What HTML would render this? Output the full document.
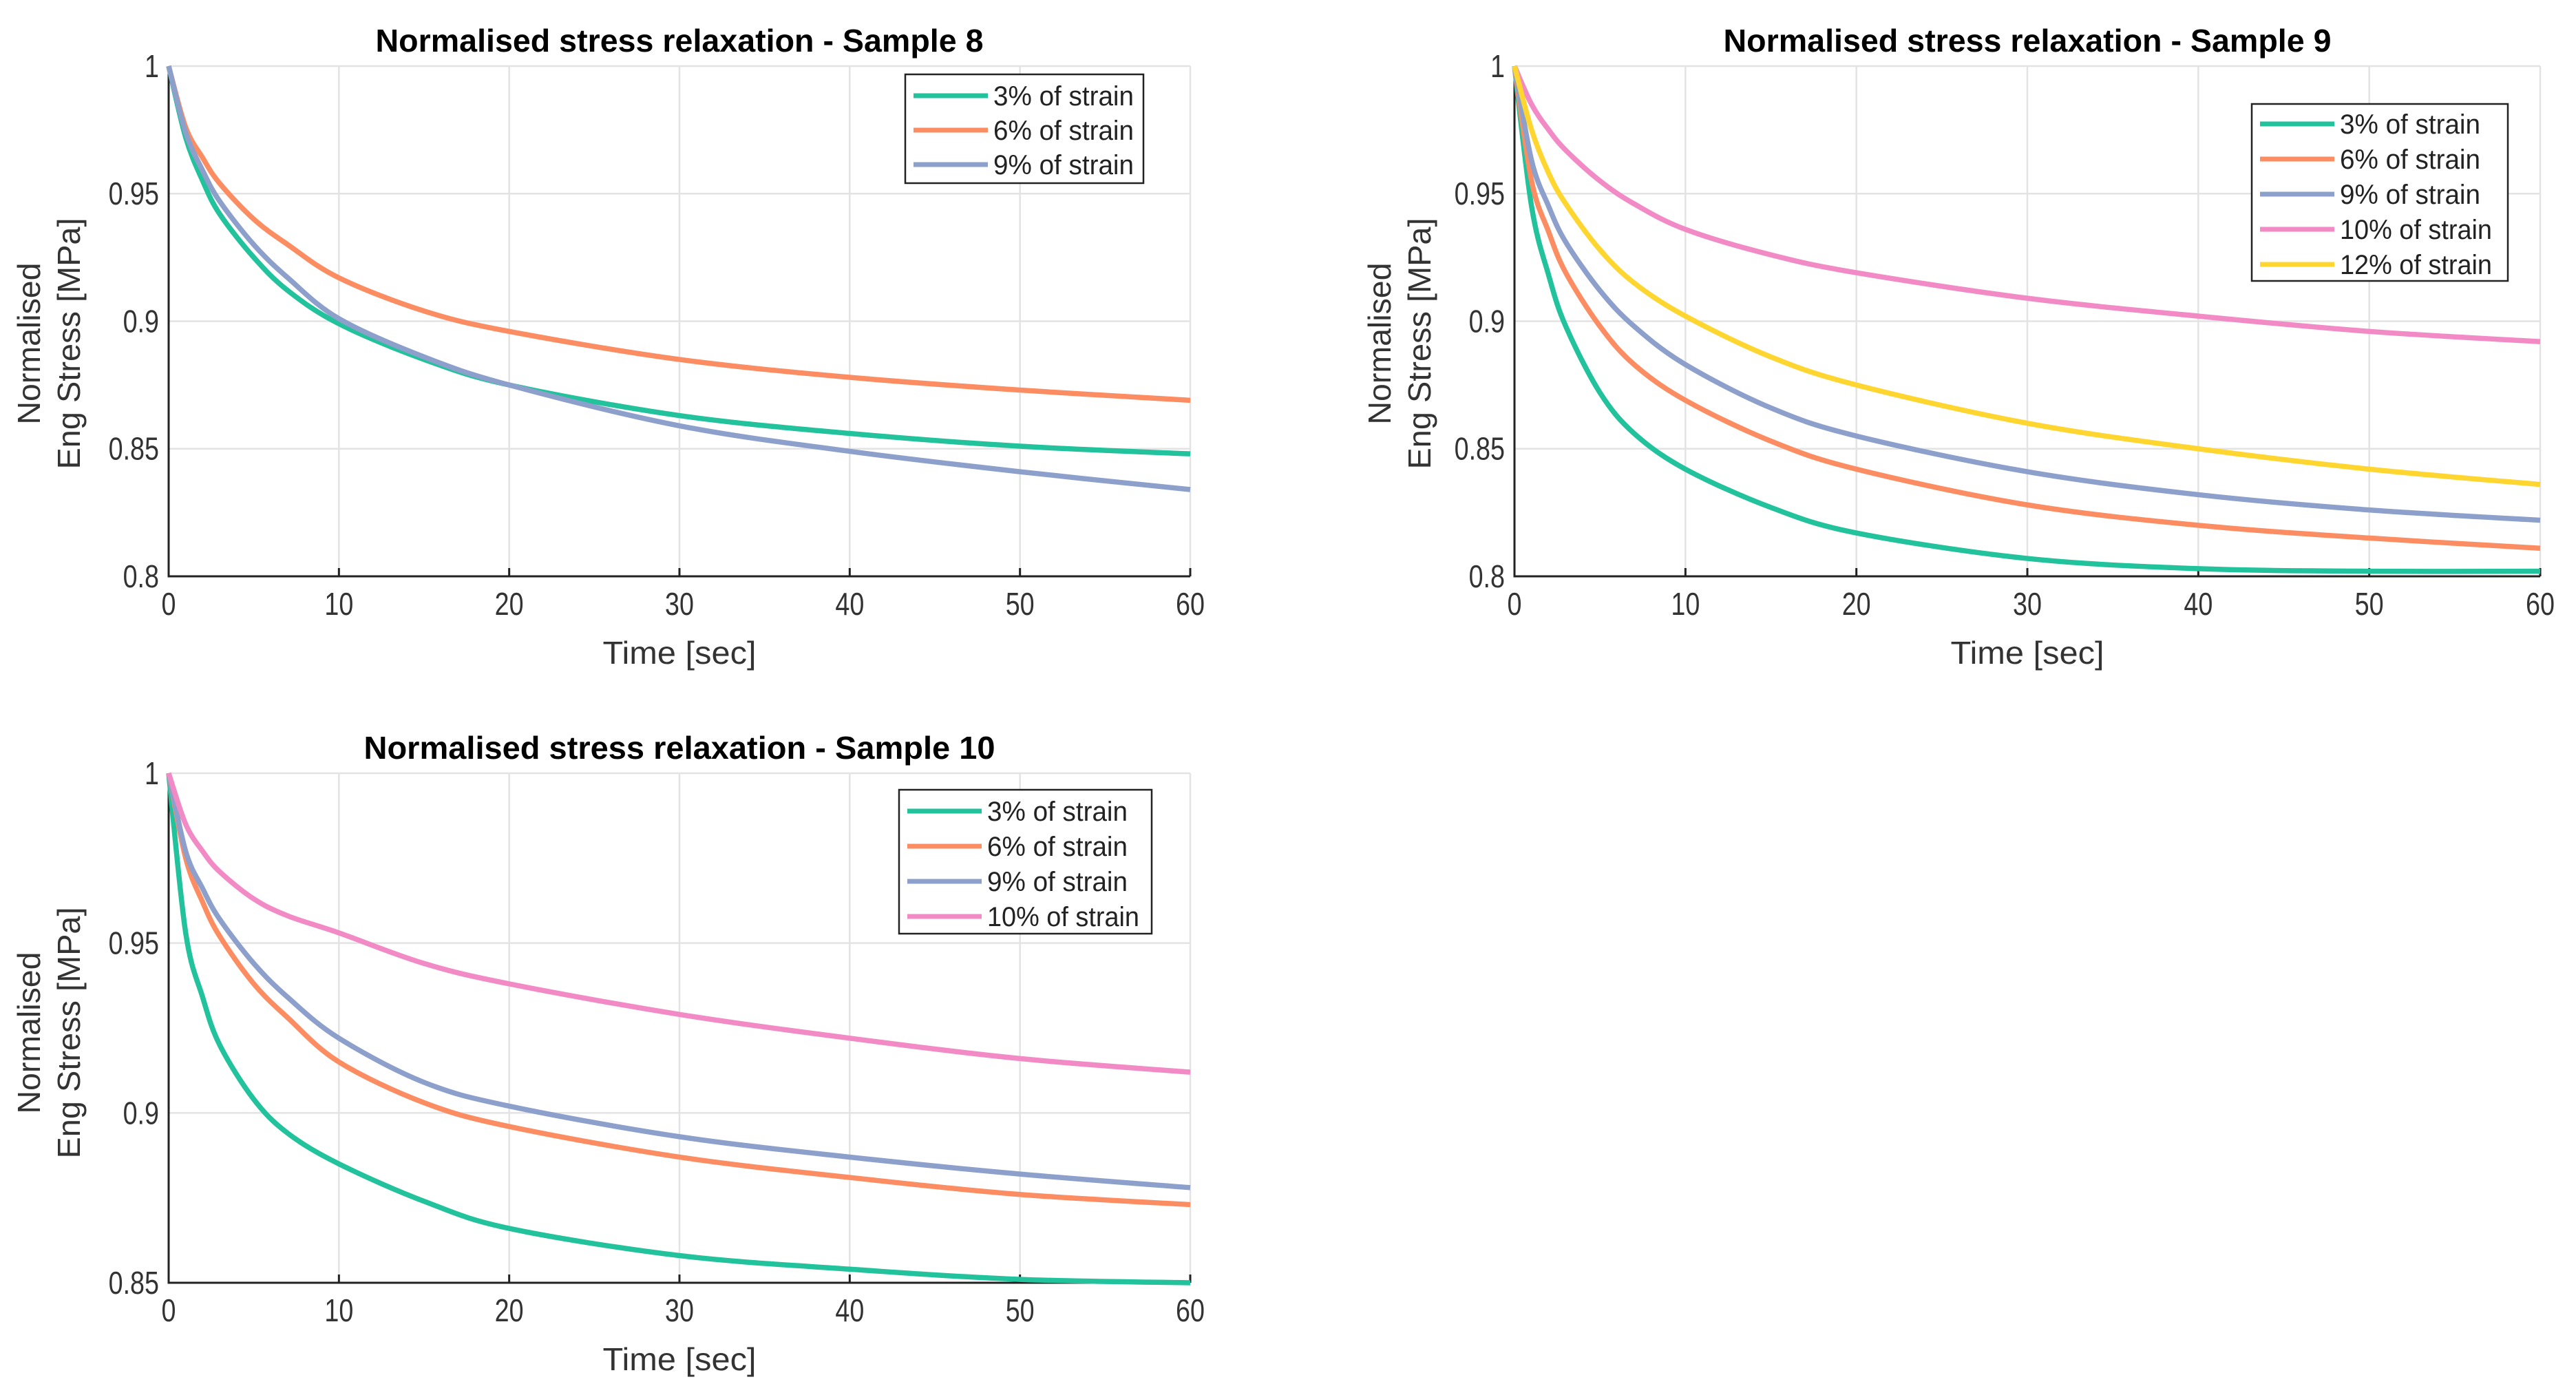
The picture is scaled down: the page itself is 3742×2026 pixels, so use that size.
<!DOCTYPE html>
<html><head><meta charset="utf-8"><style>
html,body{margin:0;padding:0;background:#fff;overflow:hidden;}
svg{display:block;font-family:"Liberation Sans",sans-serif;}
</style></head><body>
<svg id="fig" width="3742" height="2026" viewBox="0 0 3742 2026"></svg>
<script>
const times = [0,1,2,3,5,7,10,15,20,30,40,50,60];
const xTicks = [0,10,20,30,40,50,60];
const seriesLabels = ["3% of strain","6% of strain","9% of strain","10% of strain","12% of strain"];
const s8_3 = [1,0.972,0.955,0.942,0.925,0.912,0.899,0.885,0.875,0.863,0.856,0.851,0.848];
const s8_6 = [1,0.976,0.964,0.954,0.940,0.930,0.917,0.904,0.896,0.885,0.878,0.873,0.869];
const s8_9 = [1,0.974,0.959,0.947,0.930,0.917,0.901,0.886,0.875,0.859,0.849,0.841,0.834];
const s9_3 = [1,0.945,0.918,0.898,0.872,0.856,0.842,0.827,0.817,0.807,0.803,0.802,0.802];
const s9_6 = [1,0.955,0.935,0.919,0.898,0.883,0.869,0.853,0.842,0.828,0.820,0.815,0.811];
const s9_9 = [1,0.963,0.945,0.931,0.912,0.898,0.883,0.866,0.855,0.841,0.832,0.826,0.822];
const s9_10 = [1,0.985,0.975,0.967,0.955,0.946,0.936,0.926,0.919,0.909,0.902,0.896,0.892];
const s9_12 = [1,0.975,0.958,0.946,0.928,0.915,0.902,0.886,0.875,0.860,0.850,0.842,0.836];
const s10_3 = [1,0.953,0.934,0.920,0.904,0.894,0.885,0.874,0.866,0.858,0.854,0.851,0.850];
const s10_6 = [1,0.975,0.962,0.952,0.938,0.928,0.915,0.903,0.896,0.887,0.881,0.876,0.873];
const s10_9 = [1,0.977,0.966,0.957,0.944,0.934,0.922,0.909,0.902,0.893,0.887,0.882,0.878];
const s10_10 = [1,0.985,0.977,0.971,0.963,0.958,0.953,0.944,0.938,0.929,0.922,0.916,0.912];
const yTicksA = [0.8,0.85,0.9,0.95,1];
const yTicksC = [0.85,0.9,0.95,1];
const colors = ["#22c29c","#fc8d62","#8da0cb","#f28ac6","#ffd52f"];

const NS="http://www.w3.org/2000/svg";
const svg=document.getElementById('fig');
function mk(tag,attrs,parent){const e=document.createElementNS(NS,tag);for(const k in attrs)e.setAttribute(k,attrs[k]);(parent||svg).appendChild(e);return e;}

function chart(cfg){
  const g=mk('g',{});
  
  
  const {x0,x1,y0,y1,ymin,ymax}=cfg;
  const sx=t=>x0+(t-0)/60*(x1-x0);
  const sy=v=>y1-(v-ymin)/(ymax-ymin)*(y1-y0);
  xTicks.forEach(t=>{const l=mk('line',{x1:sx(t),x2:sx(t),y1:y0,y2:y1,stroke:'#e3e3e3','stroke-width':2.5},g);
    });
  cfg.yTicks.forEach(v=>{const l=mk('line',{x1:x0,x2:x1,y1:sy(v),y2:sy(v),stroke:'#e3e3e3','stroke-width':2.5},g);
    });
  const ax=mk('path',{d:`M${x0} ${y0} L${x0} ${y1} L${x1} ${y1}`,fill:'none',stroke:'#222','stroke-width':3},g);
  
  xTicks.forEach(t=>{
    mk('line',{x1:sx(t),x2:sx(t),y1:y1,y2:y1-12,stroke:'#222','stroke-width':3},g);
    const tx=mk('text',{x:sx(t),y:y1+56,'font-size':46,'text-anchor':'middle',fill:'#333',transform:`translate(${sx(t)},0) scale(0.82,1) translate(${-sx(t)},0)`},g);
    tx.textContent=t;
    
  });
  cfg.yTicks.forEach(v=>{
    const tx=mk('text',{x:x0-14,y:sy(v)+16,'font-size':46,'text-anchor':'end',fill:'#333',transform:`translate(${x0-14},0) scale(0.82,1) translate(${-(x0-14)},0)`},g);
    tx.textContent=String(v);
    
  });
  const tt=mk('text',{x:(x0+x1)/2,y:y0-21,'font-size':46,'font-weight':'bold','text-anchor':'middle',fill:'#000',textLength:cfg.titleLen,lengthAdjust:'spacingAndGlyphs'},g);
  tt.textContent=cfg.title;
  
  const xl=mk('text',{x:(x0+x1)/2,y:y1+127,'font-size':46,'text-anchor':'middle',fill:'#333',textLength:223,lengthAdjust:'spacingAndGlyphs'},g);
  xl.textContent='Time [sec]';
  
  const yl1=mk('text',{x:0,y:0,'font-size':46,'text-anchor':'middle',fill:'#333',textLength:235,lengthAdjust:'spacingAndGlyphs',transform:`translate(${cfg.ylx},${cfg.ylCy}) rotate(-90)`},g);
  yl1.textContent='Normalised';
  
  const yl2=mk('text',{x:0,y:0,'font-size':46,'text-anchor':'middle',fill:'#333',textLength:365,lengthAdjust:'spacingAndGlyphs',transform:`translate(${cfg.ylx+58},${cfg.ylCy}) rotate(-90)`},g);
  yl2.textContent='Eng Stress [MPa]';
  
  cfg.series.forEach((vals,i)=>{
    const pts=times.map((t,j)=>[sx(t),sy(vals[j])]);
    let d=`M${pts[0][0]} ${pts[0][1]}`;
    for(let j=0;j<pts.length-1;j++){
      const p0=pts[Math.max(0,j-1)],p1=pts[j],p2=pts[j+1],p3=pts[Math.min(pts.length-1,j+2)];
      const c1=[p1[0]+(p2[0]-p0[0])/6,p1[1]+(p2[1]-p0[1])/6];
      const c2=[p2[0]-(p3[0]-p1[0])/6,p2[1]-(p3[1]-p1[1])/6];
      d+=` C${c1[0]} ${c1[1]} ${c2[0]} ${c2[1]} ${p2[0]} ${p2[1]}`;
    }
    const p=mk('path',{d,fill:'none',stroke:colors[i],'stroke-width':7.5,'stroke-linejoin':'round'},g);
    
    
  });
  const L=cfg.legend;
  const lg=mk('g',{},g);
  
  mk('rect',{x:L.x,y:L.y,width:L.w,height:L.h,fill:'#fff',stroke:'#222','stroke-width':2.5},lg);
  cfg.series.forEach((v,i)=>{
    const ry=L.y+L.first+i*L.step;
    const e=mk('g',{},lg);
    
    mk('line',{x1:L.x+12,x2:L.x+120,y1:ry,y2:ry,stroke:colors[i],'stroke-width':7},e);
    const tx=mk('text',{x:L.x+128,y:ry+14,'font-size':40,fill:'#222',textLength:seriesLabels[i].length*17,lengthAdjust:'spacingAndGlyphs'},e);
    tx.textContent=seriesLabels[i];
  });
}

chart({name:'chart-sample-8',x0:245,x1:1729,y0:96,y1:837,ymin:0.8,ymax:1,yTicks:yTicksA,
  title:'Normalised stress relaxation - Sample 8',titleLen:883,ylx:58,ylCy:499,
  series:[s8_3,s8_6,s8_9],legend:{x:1315,y:108,w:346,h:158,first:31,step:50}});
chart({name:'chart-sample-9',x0:2200,x1:3690,y0:96,y1:837,ymin:0.8,ymax:1,yTicks:yTicksA,
  title:'Normalised stress relaxation - Sample 9',titleLen:883,ylx:2020,ylCy:499,
  series:[s9_3,s9_6,s9_9,s9_10,s9_12],legend:{x:3271,y:151,w:372,h:257,first:29,step:51}});
chart({name:'chart-sample-10',x0:245,x1:1729,y0:1123,y1:1863,ymin:0.85,ymax:1,yTicks:yTicksC,
  title:'Normalised stress relaxation - Sample 10',titleLen:917,ylx:58,ylCy:1500,
  series:[s10_3,s10_6,s10_9,s10_10],legend:{x:1306,y:1147,w:367,h:209,first:31,step:51}});
</script>
</body></html>
